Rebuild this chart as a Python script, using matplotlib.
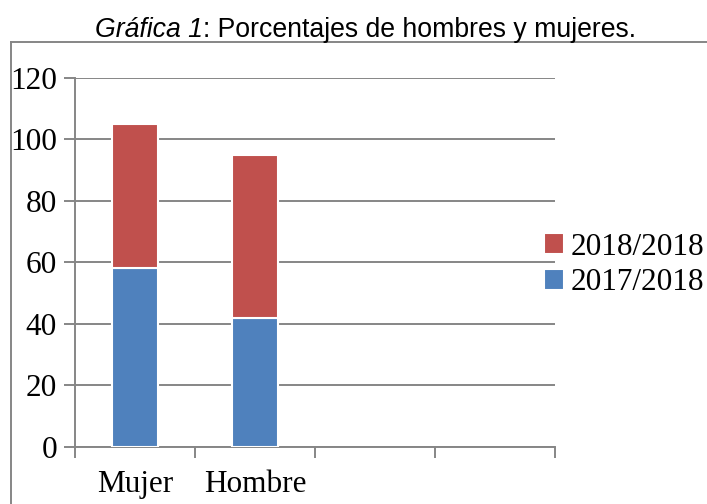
import matplotlib
matplotlib.use("Agg")
import matplotlib.pyplot as plt
from matplotlib.lines import Line2D
import numpy as np

# data
categorias = ["Mujer", "Hombre"]
curso_2017 = [58, 42]
curso_2018 = [47, 53]
series = ["2017/2018", "2018/2018"]
yticks = [0, 20, 40, 60, 80, 100, 120]

azul = "#4F81BD"
rojo = "#C0504D"
gris = "#868686"

W, H = 707, 504
fig = plt.figure(figsize=(W / 100, H / 100), dpi=100)
ax = fig.add_axes([75 / W, 1 - 446.5 / H, 480 / W, 368.5 / H])

x = np.arange(len(categorias)) + 0.5
b1 = ax.bar(x, curso_2017, width=0.39, color=azul, edgecolor="white", linewidth=1.5,
            label=series[0], zorder=3)
b2 = ax.bar(x, curso_2018, width=0.39, bottom=curso_2017, color=rojo, edgecolor="white",
            linewidth=1.5, label=series[1], zorder=3)

ax.set_xlim(0, 4)
ax.set_ylim(0, 120)
ax.set_yticks(yticks)
ax.yaxis.grid(True, color=gris, linewidth=1.4)
ax.set_axisbelow(True)

ax.set_xticks(x)
ax.set_xticklabels(categorias)
ax.set_xticks(np.arange(0, 5), minor=True)
ax.tick_params(axis="x", which="major", length=0, pad=17)
ax.tick_params(axis="x", which="minor", length=8, width=1.4, color=gris, direction="out")
ax.tick_params(axis="y", length=8, width=1.4, color=gris, direction="out", pad=5)

serif = ["Liberation Serif", "DejaVu Serif"]
for lab in ax.get_xticklabels() + ax.get_yticklabels():
    lab.set_family(serif)
    lab.set_fontsize(22.5)

for s in ["top", "right"]:
    ax.spines[s].set_visible(False)
for s in ["left", "bottom"]:
    ax.spines[s].set_color(gris)
    ax.spines[s].set_linewidth(1.4)

leg = ax.legend([b2, b1], [series[1], series[0]], loc="center left",
                bbox_to_anchor=(544 / W, 1 - 265 / H), bbox_transform=fig.transFigure,
                frameon=False, borderpad=0, borderaxespad=0, handlelength=0.65,
                handleheight=0.65, handletextpad=0.2, labelspacing=0.22,
                prop={"family": serif, "size": 22.5})

# outer frame (only top and left visible in the crop)
fig.add_artist(Line2D([11 / W, 1], [1 - 42 / H] * 2, transform=fig.transFigure,
                      color=gris, linewidth=1.4))
fig.add_artist(Line2D([11 / W] * 2, [1 - 42 / H, 0], transform=fig.transFigure,
                      color=gris, linewidth=1.4))

# title: italic part then regular part
sans = ["Liberation Sans", "DejaVu Sans"]
t1 = fig.text(95 / W, 1 - 37 / H, "Gráfica 1", style="italic",
              family=sans, fontsize=19.2, va="baseline")
fig.canvas.draw()
bb = t1.get_window_extent()
fig.text(bb.x1 / W, 1 - 37 / H, ": Porcentajes de hombres y mujeres.",
         family=sans, fontsize=19.2, va="baseline")

fig.savefig("out.png", dpi=100)
